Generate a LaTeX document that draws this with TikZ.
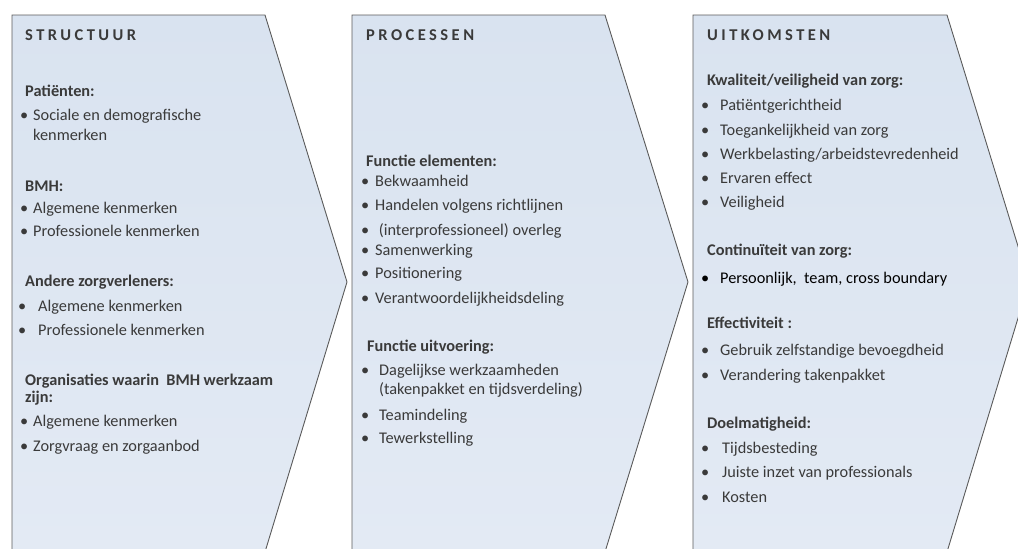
\documentclass[tikz,border=0pt]{standalone}
\usepackage{fontspec}
\setmainfont{Carlito}
\usepackage{tikz}

\definecolor{chevfill}{HTML}{D9E3F0}
\definecolor{chevlight}{HTML}{E3EAF4}
\definecolor{chevline}{HTML}{5A5A5A}
\definecolor{txtgray}{HTML}{3A3A3A}

\newcommand{\bul}[1]{\makebox[#1][l]{\textbullet}}

\begin{document}
\begin{tikzpicture}[x=1pt,y=-1pt,
  chevron/.style={draw=chevline, line width=0.9pt, top color=chevfill, bottom color=chevlight},
  kop/.style={anchor=west, inner sep=0pt, text=txtgray,
    font=\fontsize{16.5}{18}\selectfont\bfseries\addfontfeatures{LetterSpace=21}},
  sub/.style={anchor=west, inner sep=0pt, text=txtgray, text height=11pt, text depth=3.5pt,
    font=\fontsize{16.3}{18}\selectfont\bfseries},
  item/.style={anchor=west, inner sep=0pt, text=txtgray, text height=11pt, text depth=3.5pt,
    font=\fontsize{16.3}{18}\selectfont}]

\useasboundingbox (0,0) rectangle (1018,549);

% de drie pijlen
\path[chevron] (12,552) -- (12,15) -- (265,15) -- (347,282) -- (265,552) -- cycle;
\path[chevron] (352,552) -- (352,15) -- (605,15) -- (688,282) -- (605,552) -- cycle;
\path[chevron] (693,552) -- (693,15) -- (947,15) -- (1029,282) -- (947,552) -- cycle;

% structuur
\node[kop] (struct) at (25,35) {STRUCTUUR};
\node[sub] (pat) at (25,93) {Patiënten:};
\node[item] (pat1) at (20,117) {\bul{13pt}Sociale en demografische};
\node[item] (pat1b) at (33,137) {kenmerken};
\node[sub] (bmh) at (25,188) {BMH:};
\node[item] (bmh1) at (20,210) {\bul{13pt}Algemene kenmerken};
\node[item] (bmh2) at (20,233) {\bul{13pt}Professionele kenmerken};
\node[sub] (andere) at (25,283) {Andere zorgverleners:};
\node[item] (andere1) at (18,308) {\bul{20pt}Algemene kenmerken};
\node[item] (andere2) at (18,332) {\bul{20pt}Professionele kenmerken};
\node[sub] (org) at (25,382) {Organisaties waarin\ \ BMH werkzaam};
\node[sub] (orgb) at (25,399) {zijn:};
\node[item] (org1) at (20,423) {\bul{13pt}Algemene kenmerken};
\node[item] (org2) at (20,448) {\bul{13pt}Zorgvraag en zorgaanbod};

% processen
\node[kop] (proc) at (366,35) {PROCESSEN};
\node[sub] (elem) at (366,163) {Functie elementen:};
\node[item] (elem1) at (361,183) {\bul{14pt}Bekwaamheid};
\node[item] (elem2) at (361,207) {\bul{14pt}Handelen volgens richtlijnen};
\node[item] (elem3) at (361,232) {\bul{14pt} (interprofessioneel) overleg};
\node[item] (elem4) at (361,252) {\bul{14pt}Samenwerking};
\node[item] (elem5) at (361,275) {\bul{14pt}Positionering};
\node[item] (elem6) at (361,300) {\bul{14pt}Verantwoordelijkheidsdeling};
\node[sub] (uitv) at (367,348) {Functie uitvoering:};
\node[item] (uitv1) at (361,372) {\bul{18pt}Dagelijkse werkzaamheden};
\node[item] (uitv1b) at (379,391) {(takenpakket en tijdsverdeling)};
\node[item] (uitv2) at (361,417) {\bul{18pt}Teamindeling};
\node[item] (uitv3) at (361,440) {\bul{18pt}Tewerkstelling};

% uitkomsten
\node[kop] (uitk) at (707,35) {UITKOMSTEN};
\node[sub] (kwal) at (707,82) {Kwaliteit/veiligheid van zorg:};
\node[item] (kwal1) at (701,107) {\bul{19pt}Patiëntgerichtheid};
\node[item] (kwal2) at (701,132) {\bul{19pt}Toegankelijkheid van zorg};
\node[item] (kwal3) at (701,156) {\bul{19pt}Werkbelasting/arbeidstevredenheid};
\node[item] (kwal4) at (701,180) {\bul{19pt}Ervaren effect};
\node[item] (kwal5) at (701,204) {\bul{19pt}Veiligheid};
\node[sub] (cont) at (707,252) {Continuïteit van zorg:};
\node[item, text=black] (cont1) at (701,280) {\bul{19pt}Persoonlijk,\ \ team, cross boundary};
\node[sub] (eff) at (707,325) {Effectiviteit :};
\node[item] (eff1) at (701,352) {\bul{19pt}Gebruik zelfstandige bevoegdheid};
\node[item] (eff2) at (701,377) {\bul{19pt}Verandering takenpakket};
\node[sub] (doel) at (707,425) {Doelmatigheid:};
\node[item] (doel1) at (701,450) {\bul{21pt}Tijdsbesteding};
\node[item] (doel2) at (701,474) {\bul{21pt}Juiste inzet van professionals};
\node[item] (doel3) at (701,499) {\bul{21pt}Kosten};

\end{tikzpicture}
\end{document}
